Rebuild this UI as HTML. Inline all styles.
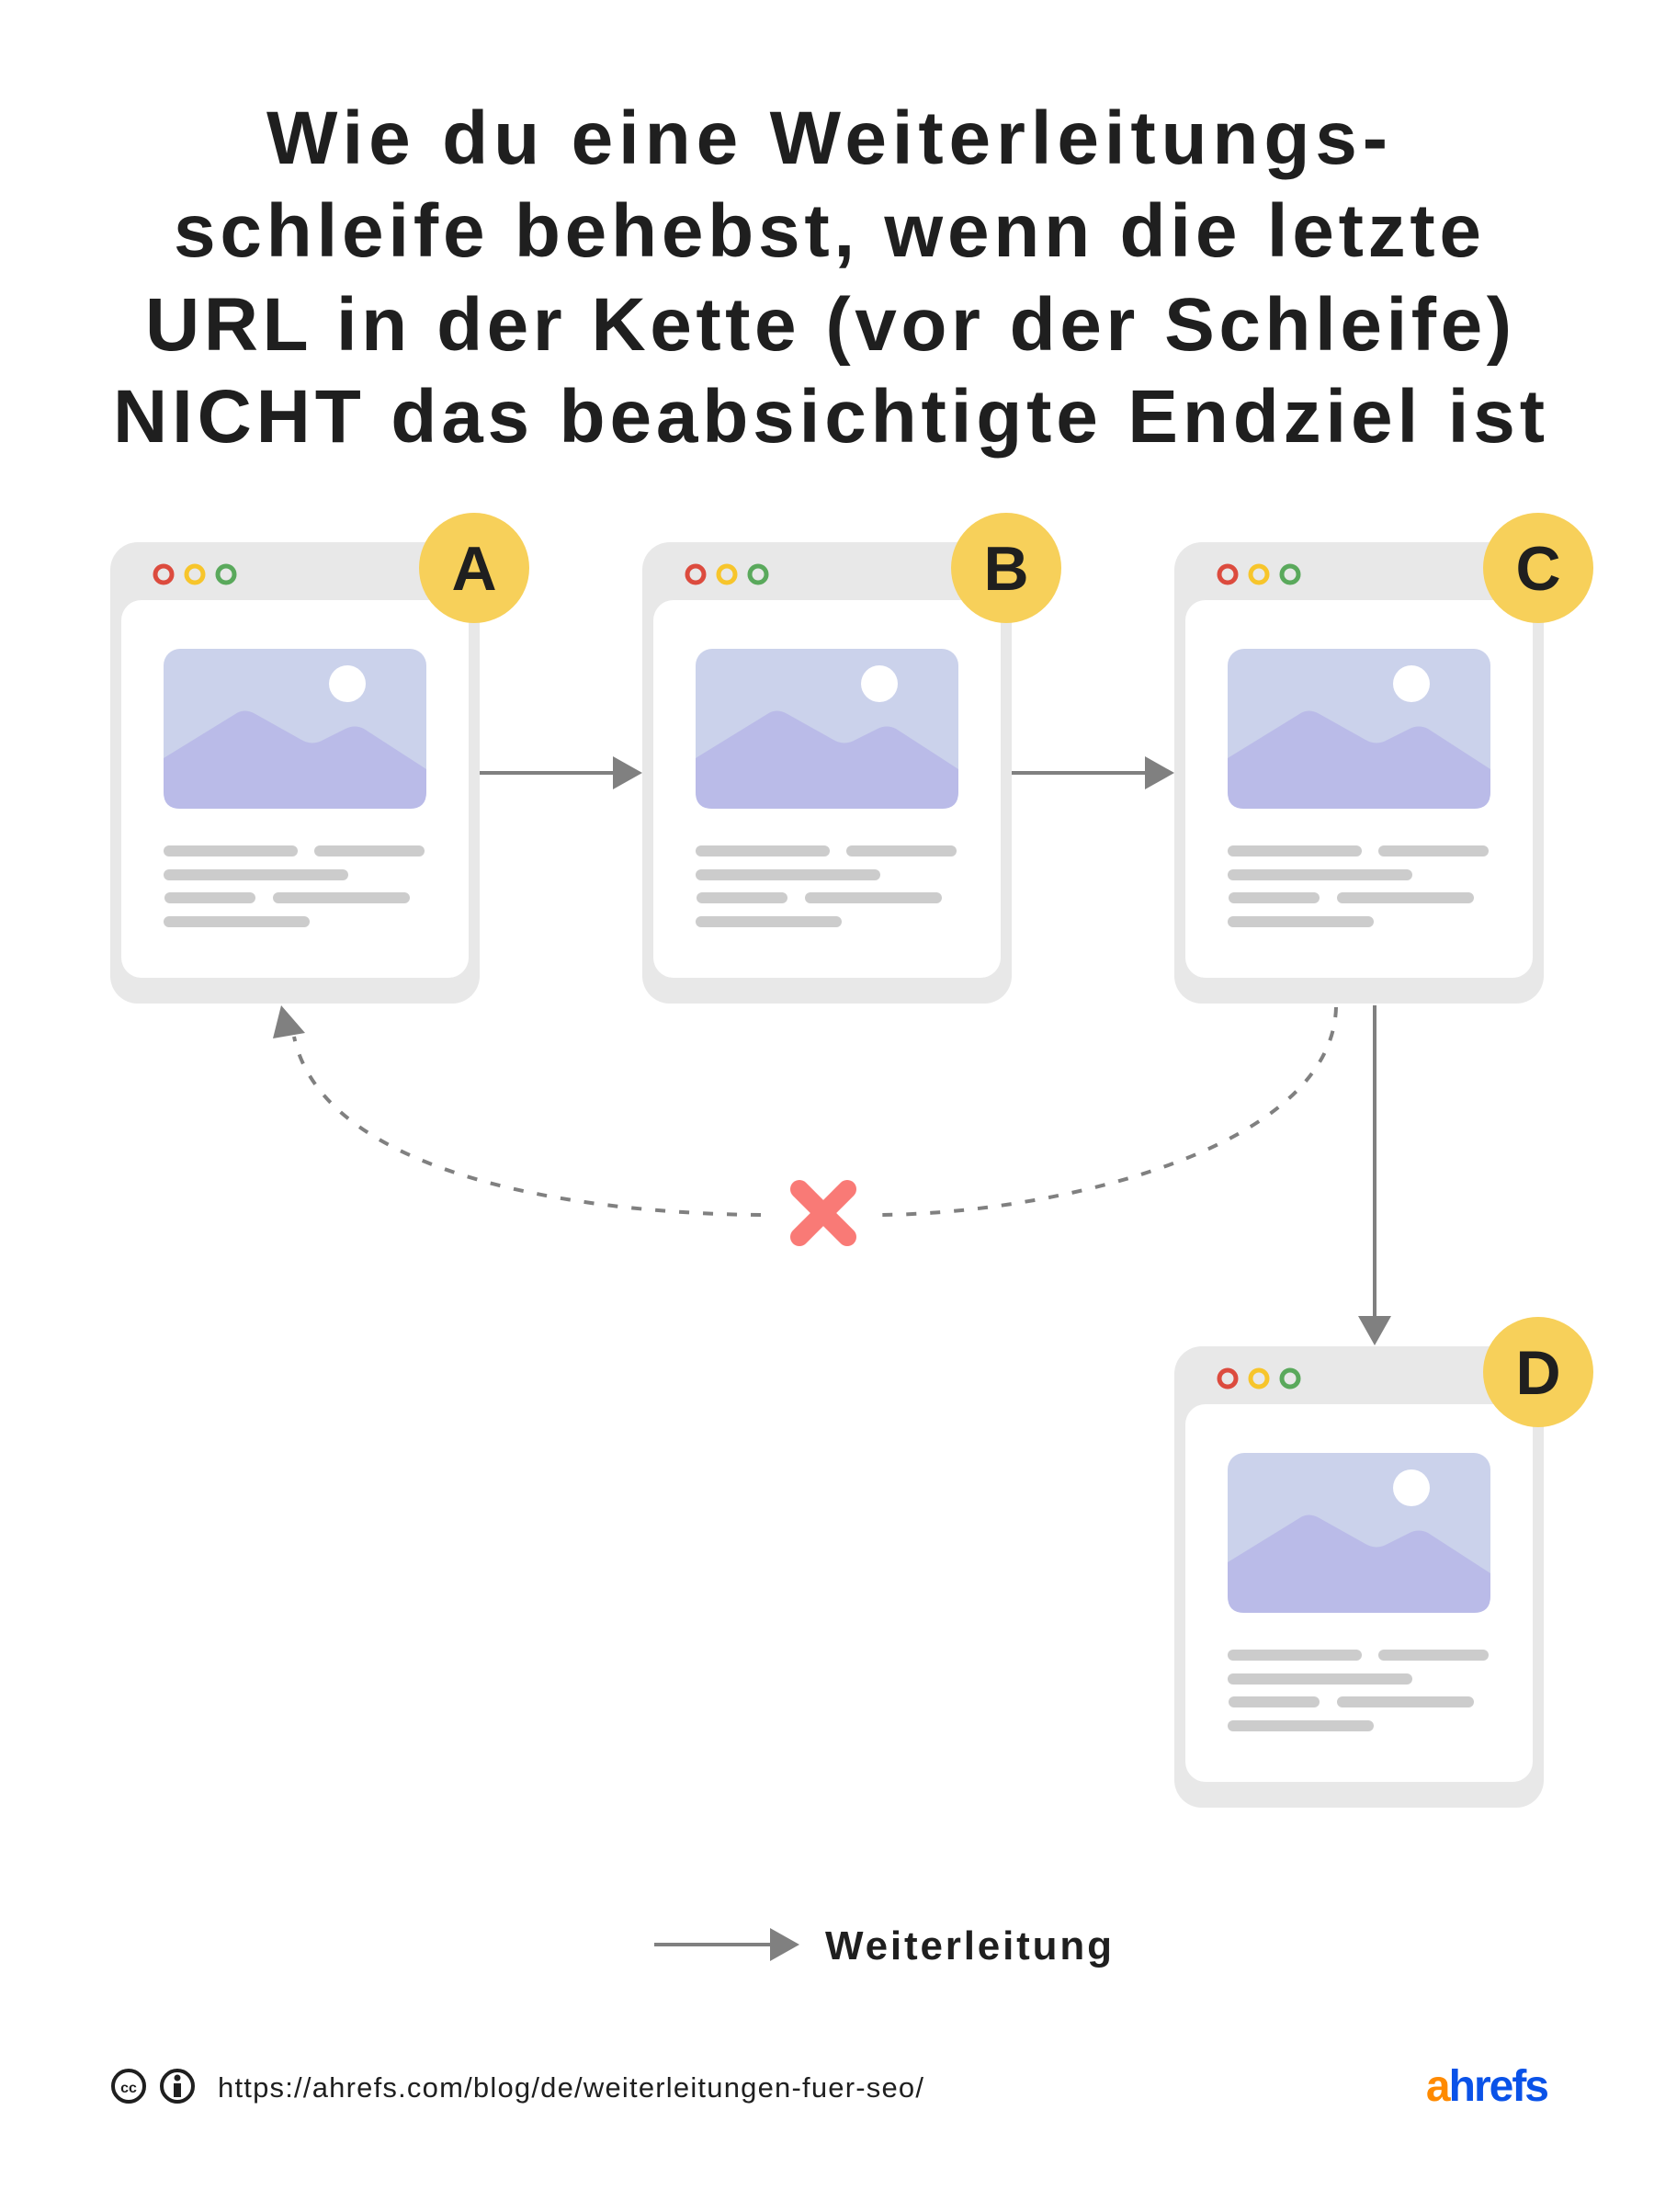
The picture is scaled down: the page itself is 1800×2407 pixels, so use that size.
<!DOCTYPE html>
<html><head><meta charset="utf-8"><style>
html,body{margin:0;padding:0;background:#fff;}
svg{display:block;}
</style></head><body>
<svg width="1800" height="2407" viewBox="0 0 1800 2407" xmlns="http://www.w3.org/2000/svg">
<defs>
<g id="win">
  <rect x="0" y="0" width="402" height="502" rx="30" fill="#e8e8e8"/>
  <rect x="12" y="63" width="378" height="411" rx="22" fill="#fff"/>
  <circle cx="58" cy="35" r="9" fill="none" stroke="#dc4b3e" stroke-width="5"/>
  <circle cx="92" cy="35" r="9" fill="none" stroke="#f7c52b" stroke-width="5"/>
  <circle cx="126" cy="35" r="9" fill="none" stroke="#5aa95c" stroke-width="5"/>
  <rect x="58" y="116" width="286" height="174" rx="18" fill="#cbd2eb"/>
  <circle cx="258" cy="154" r="20" fill="#fff"/>
  <path d="M58 235 L136 187 Q146 180 158 187 L208 215 Q220 222 232 215 L256 203 Q266 198 276 203 L344 247 L344 272 Q344 290 326 290 L76 290 Q58 290 58 272 Z" fill="#babbe8"/>
  <g fill="#cccccc">
    <rect x="58" y="330" width="146" height="12" rx="6"/>
    <rect x="222" y="330" width="120" height="12" rx="6"/>
    <rect x="58" y="356" width="201" height="12" rx="6"/>
    <rect x="59" y="381" width="99" height="12" rx="6"/>
    <rect x="177" y="381" width="149" height="12" rx="6"/>
    <rect x="58" y="407" width="159" height="12" rx="6"/>
  </g>
  <circle cx="396" cy="28" r="60" fill="#f7d05a"/>
</g>
</defs>

<g font-family="Liberation Sans, sans-serif" font-weight="bold" font-size="82" fill="#1f1f1f">
  <text x="290" y="178" textLength="1220" lengthAdjust="spacing">Wie du eine Weiterleitungs-</text>
  <text x="189" y="279" textLength="1423" lengthAdjust="spacing">schleife behebst, wenn die letzte</text>
  <text x="158" y="381" textLength="1487" lengthAdjust="spacing">URL in der Kette (vor der Schleife)</text>
  <text x="123" y="481" textLength="1558" lengthAdjust="spacing">NICHT das beabsichtigte Endziel ist</text>
</g>

<use href="#win" x="120" y="590"/>
<use href="#win" x="699" y="590"/>
<use href="#win" x="1278" y="590"/>
<use href="#win" x="1278" y="1465"/>

<g font-family="Liberation Sans, sans-serif" font-weight="bold" font-size="68" fill="#1f1f1f" text-anchor="middle">
  <text x="516" y="642">A</text>
  <text x="1095" y="642">B</text>
  <text x="1674" y="642">C</text>
  <text x="1674" y="1517">D</text>
</g>

<!-- arrows -->
<g stroke="#808080" stroke-width="4" fill="none">
  <line x1="522" y1="841" x2="670" y2="841"/>
  <line x1="1101" y1="841" x2="1249" y2="841"/>
</g>
<g fill="#808080">
  <polygon points="667,823 699,841 667,859"/>
  <polygon points="1246,823 1278,841 1246,859"/>
</g>
<line x1="1496" y1="1094" x2="1496" y2="1436" stroke="#808080" stroke-width="4"/>
<polygon points="1478,1432 1514,1432 1496,1464" fill="#808080"/>

<!-- dashed loop -->
<g stroke="#808080" stroke-width="4" fill="none" stroke-dasharray="11 15">
  <path d="M1454 1096 C1450 1250 1150 1320 960 1322"/>
  <path d="M828 1322 C600 1320 350 1270 320 1128"/>
</g>
<polygon points="306,1094 297,1130 332,1124" fill="#808080"/>

<!-- X -->
<g stroke="#f97a76" stroke-width="20" stroke-linecap="round">
  <line x1="870" y1="1294" x2="922" y2="1346"/>
  <line x1="922" y1="1294" x2="870" y2="1346"/>
</g>

<!-- legend -->
<line x1="712" y1="2116" x2="842" y2="2116" stroke="#808080" stroke-width="4"/>
<polygon points="838,2098 870,2116 838,2134" fill="#808080"/>
<text x="898" y="2132" font-family="Liberation Sans, sans-serif" font-weight="bold" font-size="44" fill="#1f1f1f" textLength="312" lengthAdjust="spacing">Weiterleitung</text>

<!-- footer -->
<g fill="none" stroke="#1f1f1f" stroke-width="4">
  <circle cx="140" cy="2270" r="17"/>
  <circle cx="193" cy="2270" r="17"/>
</g>
<text x="140" y="2277" font-family="Liberation Sans, sans-serif" font-weight="bold" font-size="16" fill="#1f1f1f" text-anchor="middle">cc</text>
<circle cx="193" cy="2261" r="3.5" fill="#1f1f1f"/>
<rect x="189" y="2267" width="8" height="15" fill="#1f1f1f"/>
<text x="237" y="2282" font-family="Liberation Sans, sans-serif" font-size="31" fill="#1f1f1f" textLength="768" lengthAdjust="spacing">https://ahrefs.com/blog/de/weiterleitungen-fuer-seo/</text>
<text x="1684" y="2286" font-family="Liberation Sans, sans-serif" font-weight="bold" font-size="48" text-anchor="end" letter-spacing="-2"><tspan fill="#ff8a00">a</tspan><tspan fill="#0a52e8">hrefs</tspan></text>
</svg>
</body></html>
